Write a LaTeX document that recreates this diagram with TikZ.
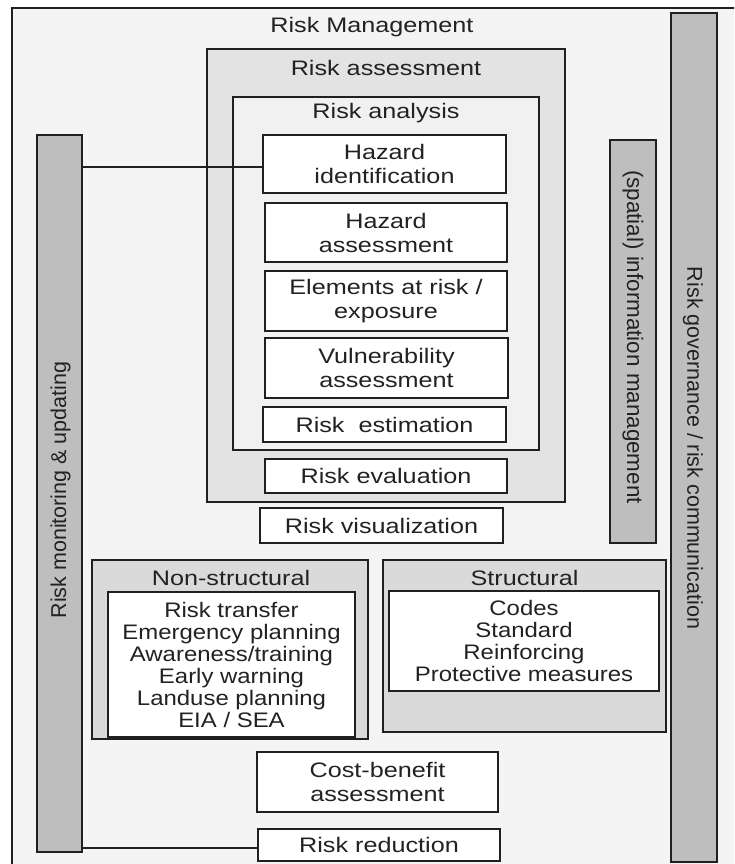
\documentclass[tikz,border=0pt]{standalone}
\usepackage{fontspec}
\setmainfont{Liberation Sans}
\newfontfamily\hfont[FakeStretch=1.2]{Liberation Sans}
\newfontfamily\lfont[FakeStretch=1.14]{Liberation Sans}
\definecolor{linec}{HTML}{202020}
\definecolor{txtc}{HTML}{222222}
\definecolor{bgc}{HTML}{F4F4F4}
\definecolor{assc}{HTML}{E3E3E3}
\definecolor{anac}{HTML}{F1F1F1}
\definecolor{grpc}{HTML}{DADADA}
\definecolor{barc}{HTML}{BEBEBE}
\tikzset{
  corners/.style n args={4}{minimum width={#3-#1}, minimum height={#4-#2},
    at={({(#1+#3)/2},{(#2+#4)/2})}},
  ln/.style={draw=linec, line width=1.8pt},
  frame/.style={ln, fill=bgc},
  cont/.style={ln, inner sep=0pt, outer sep=0pt},
  wbox/.style={ln, fill=white, inner sep=0pt, outer sep=0pt, text=txtc, align=center,
    font=\hfont\fontsize{21}{24}\selectfont},
  lbox/.style={ln, fill=white, inner sep=0pt, outer sep=0pt, text=txtc, align=center,
    font=\lfont\fontsize{21}{22}\selectfont},
  bar/.style={ln, fill=barc, inner sep=0pt, outer sep=0pt},
  ttl/.style={text=txtc, inner sep=0pt, font=\hfont\fontsize{21}{24}\selectfont},
  vtxt/.style={text=txtc, inner sep=0pt, font=\fontsize{21.5}{24}\selectfont},
  conn/.style={draw=linec, line width=1.8pt}
}
\begin{document}
\begin{tikzpicture}[x=1pt,y=-1pt]
\useasboundingbox (0,0) rectangle (734,864);
\begin{scope}
\clip (0,0) rectangle (734,864);
\fill[white] (0,0) rectangle (734,864);
\draw[frame] (12,8) rectangle (750,880);
\end{scope}

\node[ttl] (rm) at (372,27) {Risk Management};

% bars
\node[bar, corners={37}{135}{82}{852}] (mon) {};
\node[vtxt, rotate=90] (montxt) at (60.5,490) {Risk monitoring \& updating};
\node[bar, corners={610}{140}{656}{543}] (info) {};
\node[vtxt, rotate=-90, font=\fontsize{22.4}{24}\selectfont] (infotxt) at (633,337) {(spatial) information management};
\node[bar, corners={671}{13}{717}{862}] (gov) {};
\node[vtxt, rotate=-90] (govtxt) at (693,448) {Risk governance / risk communication};

% risk assessment
\node[cont, fill=assc, corners={207}{49}{565}{502}] (ass) {};
\node[ttl] (asstxt) at (386,68) {Risk assessment};
\node[cont, fill=anac, corners={233}{97}{539}{450}] (ana) {};
\node[ttl] (anatxt) at (386,113) {Risk analysis};

\node[wbox, corners={263}{135}{506}{193}] (hazid) {Hazard\\identification};
\node[wbox, corners={265}{203}{507}{262}] (hazas) {Hazard\\assessment};
\node[wbox, corners={265}{271}{507}{331}] (elem) {Elements at risk /\\exposure};
\node[wbox, corners={265}{338}{508}{398}] (vuln) {Vulnerability\\assessment};
\node[wbox, corners={263}{407}{506}{442}] (est) {Risk\ \ estimation};
\node[wbox, corners={265}{459}{507}{493}] (eval) {Risk evaluation};
\node[wbox, corners={260}{508}{503}{543}] (vis) {Risk visualization};

% measures
\node[cont, fill=grpc, corners={92}{560}{368}{739}] (nons) {};
\node[ttl] (nonstxt) at (231,578) {Non-structural};
\node[lbox, corners={108}{592}{355}{737}] (nonsl) {Risk transfer\\Emergency planning\\Awareness/training\\Early warning\\Landuse\ planning\\EIA / SEA};

\node[cont, fill=grpc, corners={383}{560}{666}{732}] (str) {};
\node[ttl] (strtxt) at (524.5,578) {Structural};
\node[lbox, corners={389}{591}{659}{691}] (strl) {Codes\\Standard\\Reinforcing\\Protective measures};

\node[wbox, corners={257}{752}{498}{812}] (cba) {Cost-benefit\\assessment};
\node[wbox, corners={258}{829}{500}{861}] (red) {Risk reduction};

% connectors
\coordinate (hzc) at ([yshift=-3pt]hazid.west);
\coordinate (rdc) at ([yshift=-3pt]red.west);
\draw[conn] (mon.east |- hzc) -- (hzc);
\draw[conn] (mon.east |- rdc) -- (rdc);
\end{tikzpicture}
\end{document}
